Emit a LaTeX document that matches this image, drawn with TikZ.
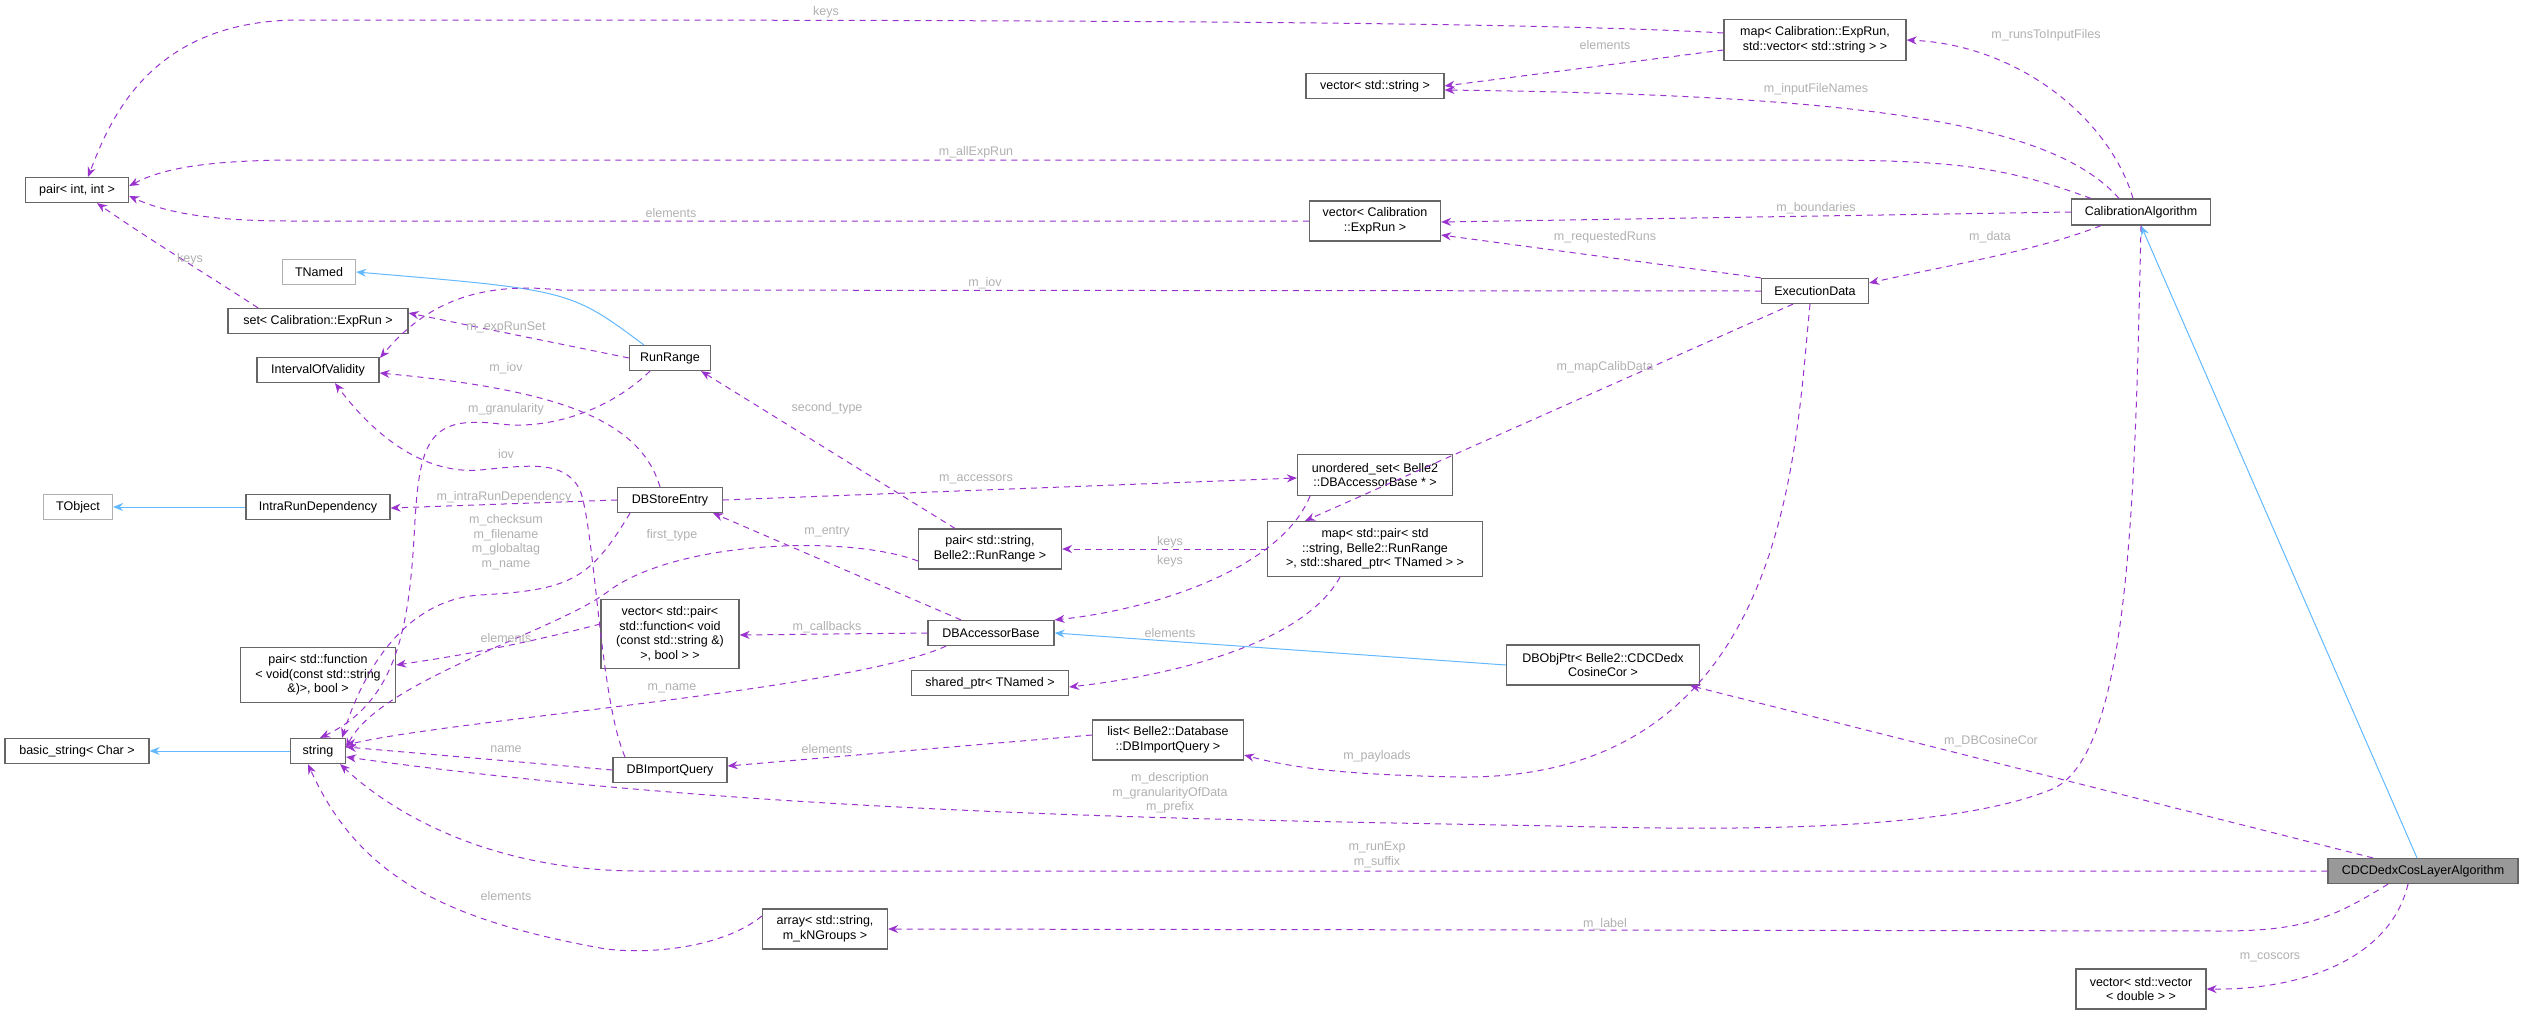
\documentclass[tikz,border=0pt]{standalone}
\usepackage{fontspec}
\setmainfont{Liberation Sans}
\usetikzlibrary{arrows.meta}
\definecolor{dep}{HTML}{9A32CD}
\definecolor{inh}{HTML}{63B8FF}
\definecolor{lab}{HTML}{B0B0B0}
\definecolor{bord}{HTML}{666666}
\begin{document}
\begin{tikzpicture}[x=1pt,y=-1pt,
  every node/.style={font=\fontsize{12.5}{14.5}\selectfont},
  b/.style={draw=bord,line width=1.2pt,fill=white,align=center,inner sep=2pt},
  g/.style={b,draw=lab},
  d/.style={draw=dep,line width=1pt,dash pattern=on 6pt off 5pt,-{Stealth[length=10pt,width=8pt]}},
  h/.style={draw=inh,line width=1pt,-{Stealth[length=10pt,width=8pt]}},
  l/.style={text=lab,align=center,inner sep=0pt}]
\useasboundingbox (0,0) rectangle (2524,1015);
% nodes
\node[b,minimum width=103pt,minimum height=25pt] (pii) at (77,190) {pair< int, int >};
\node[g,minimum width=73pt,minimum height=25pt] (tnamed) at (319,272) {TNamed};
\node[b,minimum width=180pt,minimum height=25pt] (setER) at (318,321) {set< Calibration::ExpRun >};
\node[b,minimum width=122pt,minimum height=25pt] (iov) at (318,370) {IntervalOfValidity};
\node[b,minimum width=81pt,minimum height=25pt] (rr) at (670,358) {RunRange};
\node[b,minimum width=105pt,minimum height=25pt] (dbse) at (670,500) {DBStoreEntry};
\node[g,minimum width=69pt,minimum height=25pt] (tobj) at (78,507) {TObject};
\node[b,minimum width=144pt,minimum height=25pt] (ird) at (318,507) {IntraRunDependency};
\node[b,minimum width=138pt,minimum height=25pt] (vstr) at (1375,86) {vector< std::string >};
\node[b,minimum width=182pt,minimum height=41pt] (mapER) at (1815,40) {map< Calibration::ExpRun,\\std::vector< std::string > >};
\node[b,minimum width=139pt,minimum height=26pt] (ca) at (2141,212) {CalibrationAlgorithm};
\node[b,minimum width=131pt,minimum height=40pt] (vER) at (1375,221) {vector< Calibration\\::ExpRun >};
\node[b,minimum width=107pt,minimum height=25pt] (ed) at (1815,291) {ExecutionData};
\node[b,minimum width=155pt,minimum height=41pt] (uset) at (1375,475) {unordered\_set< Belle2\\::DBAccessorBase * >};
\node[b,minimum width=143pt,minimum height=40pt] (psr) at (990,549) {pair< std::string,\\Belle2::RunRange >};
\node[b,minimum width=215pt,minimum height=55pt] (mapP) at (1375,549) {map< std::pair< std\\::string, Belle2::RunRange\\>, std::shared\_ptr< TNamed > >};
\node[b,minimum width=126pt,minimum height=25pt] (dbab) at (991,633) {DBAccessorBase};
\node[b,minimum width=157pt,minimum height=25pt] (shp) at (990,683) {shared\_ptr< TNamed >};
\node[b,minimum width=138pt,minimum height=69pt] (vpf) at (670,634) {vector< std::pair<\\std::function< void\\(const std::string \&)\\>, bool > >};
\node[b,minimum width=155pt,minimum height=55pt] (pf) at (318,675) {pair< std::function\\< void(const std::string\\\&)>, bool >};
\node[b,minimum width=144pt,minimum height=25pt] (bstr) at (77,751) {basic\_string< Char >};
\node[b,minimum width=55pt,minimum height=25pt] (str) at (318,751) {string};
\node[b,minimum width=114pt,minimum height=25pt] (dbiq) at (670,770) {DBImportQuery};
\node[b,minimum width=151pt,minimum height=40pt] (list) at (1168,740) {list< Belle2::Database\\::DBImportQuery >};
\node[b,minimum width=125pt,minimum height=40pt] (arr) at (825,929) {array< std::string,\\m\_kNGroups >};
\node[b,minimum width=193pt,minimum height=40pt] (dbop) at (1603,665) {DBObjPtr< Belle2::CDCDedx\\CosineCor >};
\node[b,fill=gray!80,minimum width=190pt,minimum height=25pt] (cdc) at (2423,871) {CDCDedxCosLayerAlgorithm};
\node[b,minimum width=130pt,minimum height=40pt] (vvd) at (2141,989) {vector< std::vector\\< double > >};
% inheritance
\draw[h] (cdc.north) +(-6,0) -- (ca.south);
\draw[h] (dbop.west) -- (dbab.east);
\draw[h] (rr.north west) +(15,0) .. controls (570,290) .. (tnamed.east);
\draw[h] (ird.west) -- (tobj.east);
\draw[h] (str.west) -- (bstr.east);
% dependencies
\draw[d] (mapER.west) +(0,-7) .. controls (1500,20) and (900,20) .. (300,20) .. controls (150,20) and (110,120) .. (88,177);
\node[l] (l1) at (826,12) {keys};
\draw[d] (mapER.west) +(0,10) -- (vstr.east);
\node[l] (l2) at (1605,45) {elements};
\draw[d] (ca.north) +(-8,0) .. controls (2110,120) and (2020,45) .. (mapER.east);
\node[l] (l3) at (2046,35) {m\_runsToInputFiles};
\draw[d] (ca.north) +(-22,0) .. controls (2050,120) and (1850,95) .. ([yshift=-4pt]vstr.east);
\node[l] (l4) at (1816,89) {m\_inputFileNames};
\draw[d] (ca.north west) +(20,0) .. controls (2000,165) and (1950,160) .. (1800,160) -- (300,160) .. controls (200,160) and (160,170) .. ([yshift=4pt]pii.east);
\node[l] (l5) at (976,152) {m\_allExpRun};
\draw[d] (vER.west) -- (290,221) .. controls (200,221) and (160,210) .. ([yshift=-6pt]pii.east);
\node[l] (l6) at (671,213) {elements};
\draw[d] (ca.west) -- ([yshift=-1pt]vER.east);
\node[l] (l7) at (1816,208) {m\_boundaries};
\draw[d] (ca.south west) +(30,0) .. controls (2040,250) and (1950,265) .. ([yshift=8pt]ed.east);
\node[l] (l8) at (1990,237) {m\_data};
\draw[d] (ed.north west) -- ([yshift=-14pt]vER.east);
\node[l] (l9) at (1605,237) {m\_requestedRuns};
\draw[d] (ed.west) -- (560,290) .. controls (470,280) and (420,310) .. (380,358);
\node[l] (l10) at (985,283) {m\_iov};
\draw[d] ([xshift=-22pt]ed.south) -- ([xshift=-70pt]mapP.north);
\node[l] (l11) at (1605,367) {m\_mapCalibData};
\draw[d] ([xshift=-5pt]ed.south) .. controls (1795,450) and (1790,780) .. (1460,777) .. controls (1360,775) and (1300,770) .. ([yshift=-15pt]list.east);
\node[l] (l12) at (1377,756) {m\_payloads};
\draw[d] (ca.south) .. controls (2135,500) and (2130,760) .. (2050,790) .. controls (1950,830) and (1750,830) .. (1600,827) .. controls (1300,820) and (800,820) .. ([yshift=-6pt]str.east);
\node[l] (l13) at (1170,793) {m\_description\\m\_granularityOfData\\m\_prefix};
\draw[d] ([xshift=-50pt]cdc.north) -- ([xshift=-10pt]dbop.south east);
\node[l] (l14) at (1991,741) {m\_DBCosineCor};
\draw[d] (cdc.west) -- (640,871) .. controls (500,871) and (400,820) .. ([xshift=-6pt]str.south east);
\node[l] (l15) at (1377,855) {m\_runExp\\m\_suffix};
\draw[d] ([xshift=-35pt]cdc.south) .. controls (2330,920) and (2300,931) .. (2220,931) -- (arr.east);
\node[l] (l16) at (1605,924) {m\_label};
\draw[d] ([xshift=-15pt]cdc.south) .. controls (2390,960) and (2300,990) .. (vvd.east);
\node[l] (l17) at (2270,957) {m\_coscors};
\draw[d] (dbab.west) -- ([yshift=-1pt]vpf.east);
\node[l] (l18) at (827,627) {m\_callbacks};
\draw[d] ([xshift=-30pt]dbab.north) -- ([xshift=-10pt]dbse.south east);
\node[l] (l19) at (827,532) {m\_entry};
\draw[d] ([xshift=-45pt]dbab.south) .. controls (850,690) and (450,720) .. ([yshift=6pt]str.east);
\node[l] (l20) at (672,688) {m\_name};
\draw[d] (mapP.west) -- (psr.east);
\node[l] (l21) at (1170,542) {keys};
\draw[d] ([xshift=-35pt]mapP.south) .. controls (1300,650) and (1150,678) .. ([yshift=-4pt]shp.east);
\node[l] (l22) at (1170,633) {elements};
\draw[d] ([xshift=-65pt]uset.south) .. controls (1280,570) and (1150,610) .. (dbab.north east);
\node[l] (l23) at (1170,561) {keys};
\draw[d] (dbse.east) -- ([yshift=-3pt]uset.west);
\node[l] (l24) at (976,479) {m\_accessors};
\draw[d] (dbse.west) -- ([yshift=-1pt]ird.east);
\node[l] (l25) at (504,497) {m\_intraRunDependency};
\draw[d] ([xshift=-10pt]dbse.north) .. controls (640,420) and (560,390) .. ([yshift=-3pt]iov.east);
\node[l] (l26) at (506,368) {m\_iov};
\draw[d] ([xshift=-40pt]dbse.south) .. controls (590,580) and (570,590) .. (480,595) .. controls (400,600) and (360,680) .. ([xshift=-4pt]str.north east);
\node[l] (l27) at (506,542) {m\_checksum\\m\_filename\\m\_globaltag\\m\_name};
\draw[d] (rr.west) -- ([yshift=8pt]setER.east);
\node[l] (l28) at (506,327) {m\_expRunSet};
\draw[d] ([xshift=-20pt]rr.south) .. controls (610,410) and (550,430) .. (500,424) .. controls (430,415) and (420,440) .. (415,520) .. controls (410,620) and (400,700) .. ([xshift=2pt]str.north);
\node[l] (l29) at (506,409) {m\_granularity};
\draw[d] ([xshift=-60pt]setER.north) .. controls (200,270) and (150,240) .. ([xshift=20pt]pii.south);
\node[l] (l30) at (190,259) {keys};
\draw[d] ([xshift=-35pt]psr.north) -- ([xshift=-10pt]rr.south east);
\node[l] (l31) at (827,408) {second\_type};
\draw[d] ([yshift=-12pt]psr.west) .. controls (850,535) and (680,540) .. (610,590) .. controls (560,630) and (380,680) .. ([yshift=-10pt]str.north east);
\node[l] (l32) at (672,535) {first\_type};
\draw[d] ([yshift=10pt]vpf.west) .. controls (500,650) and (430,660) .. ([yshift=10pt]pf.east);
\node[l] (l33) at (506,638) {elements};
\draw[d] ([xshift=-45pt]dbiq.north) .. controls (600,700) and (595,530) .. (580,490) .. controls (565,460) and (530,465) .. (480,470) .. controls (420,475) and (370,430) .. ([xshift=17pt]iov.south);
\node[l] (l34) at (506,454) {iov};
\draw[d] (dbiq.west) -- ([yshift=4pt]str.east);
\node[l] (l35) at (506,749) {name};
\draw[d] ([yshift=5pt]list.west) -- ([yshift=4pt]dbiq.east);
\node[l] (l36) at (827,749) {elements};
\draw[d] ([yshift=13pt]arr.west) .. controls (720,950) and (640,955) .. (600,948) .. controls (450,920) and (360,880) .. ([xshift=-10pt]str.south);
\node[l] (l37) at (506,896) {elements};
\end{tikzpicture}
\end{document}
